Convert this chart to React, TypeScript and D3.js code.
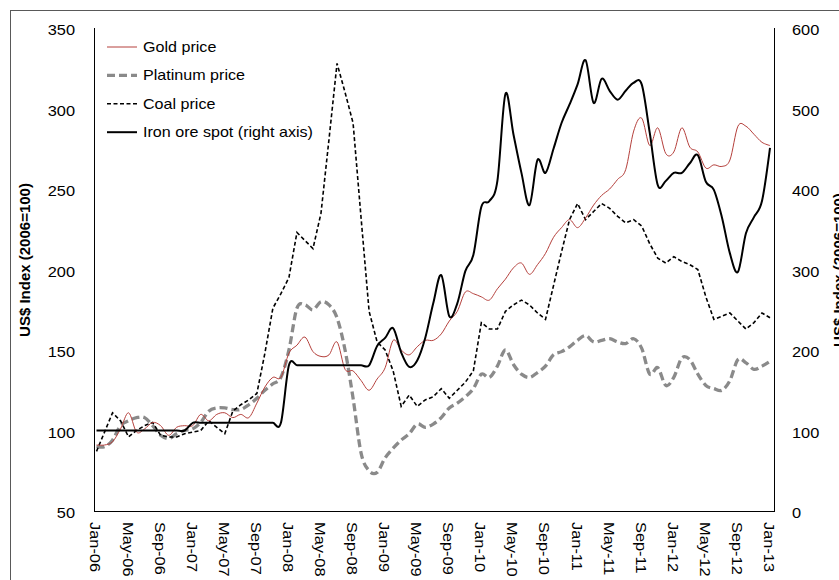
import React from 'react';
import * as d3 from 'd3';

// ---- data (monthly, Jan-06 .. Jan-13) ----
const tickLabels = [
  'Jan-06', 'May-06', 'Sep-06', 'Jan-07', 'May-07', 'Sep-07', 'Jan-08', 'May-08', 'Sep-08',
  'Jan-09', 'May-09', 'Sep-09', 'Jan-10', 'May-10', 'Sep-10', 'Jan-11', 'May-11', 'Sep-11',
  'Jan-12', 'May-12', 'Sep-12', 'Jan-13',
];
const tickEvery = 4;

const goldPrice = [
  91, 91, 93, 101, 111, 99, 101, 105, 103, 97, 102, 103,
  103, 110, 106, 110, 111, 108, 110, 108, 117, 127, 133, 133,
  148, 153, 158, 149, 146, 147, 155, 138, 137, 131, 125, 132,
  139, 156, 150, 147, 152, 156, 156, 160, 168, 174, 186, 185,
  183, 181, 188, 194, 201, 204, 197, 203, 210, 220, 226, 231,
  226, 232, 240, 246, 250, 256, 262, 286, 294, 277, 288, 272,
  273, 288, 276, 273, 263, 265, 264, 268, 289, 289, 284, 279,
  277,
];

const platinumPrice = [
  90, 90, 94, 103, 106, 108, 108, 103, 97, 95, 98, 100,
  101, 105, 112, 114, 114, 113, 113, 116, 120, 125, 129, 133,
  150, 176, 178, 175, 180, 178, 170, 150, 120, 86, 75, 74,
  83, 89, 94, 98, 104, 102, 104, 108, 114, 117, 121, 126,
  135, 133, 140, 150, 141, 135, 133, 136, 140, 147, 149, 152,
  156, 159, 155, 156, 157, 155, 154, 157, 151, 135, 139, 128,
  133, 145, 144, 135, 128, 126, 125, 131, 144, 142, 138, 140,
  143,
];

const coalPrice = [
  87, 99, 111, 106, 96, 100, 103, 105, 97, 96, 96, 98,
  99, 100, 106, 102, 98, 112, 116, 119, 123, 148, 176, 185,
  195, 223, 218, 213, 235, 281, 328, 310, 291, 232, 174, 155,
  150, 137, 115, 122, 115, 119, 121, 126, 120, 125, 130, 137,
  167, 163, 163, 174, 178, 181, 178, 173, 169, 190, 211, 231,
  241, 231, 236, 241, 238, 233, 229, 231, 227, 216, 207, 204,
  208, 205, 203, 200, 183, 169, 171, 173, 168, 163, 167, 173,
  170,
];

const ironOreSpot = [
  100, 100, 100, 100, 100, 100, 100, 100, 100, 100, 100, 100,
  109.5, 109.5, 109.5, 109.5, 109.5, 109.5, 109.5, 109.5, 109.5, 109.5, 109.5, 109.5,
  181, 181, 181, 181, 181, 181, 181, 181, 181, 181, 181, 205,
  215, 227, 197, 179, 187, 215, 258, 293, 242, 258, 298, 318,
  378, 385, 410, 518, 468, 420, 380, 436, 420, 450, 482, 505,
  530, 560, 507, 537, 522, 511, 522, 532, 530, 470, 405, 410,
  420, 420, 432, 442, 409, 399, 365, 320, 297, 345, 365, 385,
  451,
];

const leftTicks = [50, 100, 150, 200, 250, 300, 350];
const rightTicks = [0, 100, 200, 300, 400, 500, 600];

const FONT = "'Liberation Sans', Arial, sans-serif";
const SX = 1.17;

export default function App() {
  const W = 839;
  const H = 580;
  const plotL = 94, plotR = 774, plotT = 28, plotB = 511;

  const idx = d3.range(goldPrice.length);
  const x = d3.scalePoint<number>().domain(idx).range([96.5, 770]);
  const yL = d3.scaleLinear().domain([50, 350]).range([plotB, plotT]);
  const yR = d3.scaleLinear().domain([0, 600]).range([plotB, plotT]);

  const smoothL = d3.line<number>().x((_, i) => x(i)!).y(d => yL(d)).curve(d3.curveCatmullRom.alpha(0));
  const smoothR = d3.line<number>().x((_, i) => x(i)!).y(d => yR(d)).curve(d3.curveCatmullRom.alpha(0));
  const straightL = d3.line<number>().x((_, i) => x(i)!).y(d => yL(d));

  const legend = [
    { label: 'Gold price', stroke: '#B5403C', width: 1, dash: undefined as string | undefined },
    { label: 'Platinum price', stroke: '#8A8A8A', width: 3.3, dash: '8,4' },
    { label: 'Coal price', stroke: '#000', width: 1.6, dash: '4,2.5' },
    { label: 'Iron ore spot (right axis)', stroke: '#000', width: 2, dash: undefined },
  ];

  return (
    <svg width={W} height={H} style={{ position: 'absolute', left: 0, top: 0, background: '#fff' }} fontFamily={FONT}>
      <rect x={0} y={0} width={W} height={H} fill="#fff" />
      <rect x={10.5} y={10.5} width={1000} height={1000} fill="none" stroke="#595959" strokeWidth={1} />

      {/* series */}
      <path d={smoothL(platinumPrice)!} fill="none" stroke="#8A8A8A" strokeWidth={3.3} strokeDasharray="8,4" />
      <path d={straightL(coalPrice)!} fill="none" stroke="#000" strokeWidth={1.6} strokeDasharray="4,2.5" />
      <path d={smoothL(goldPrice)!} fill="none" stroke="#B5403C" strokeWidth={1} />
      <path d={smoothR(ironOreSpot)!} fill="none" stroke="#000" strokeWidth={2} />

      {/* axes lines */}
      <line x1={plotL + 0.5} x2={plotL + 0.5} y1={plotT} y2={plotB} stroke="#000" />
      <line x1={plotR + 0.5} x2={plotR + 0.5} y1={plotT} y2={plotB} stroke="#000" />
      <line x1={plotL} x2={plotR + 1} y1={plotB + 0.5} y2={plotB + 0.5} stroke="#000" />

      {/* left ticks */}
      {leftTicks.map(t => (
        <text key={'l' + t} transform={`translate(75,${yL(t) + 2}) scale(${SX},1)`} textAnchor="end"
          dominantBaseline="central" fontSize={14} fill="#000">{t}</text>
      ))}
      {/* right ticks */}
      {rightTicks.map(t => (
        <text key={'r' + t} transform={`translate(792,${yR(t) + 2}) scale(${SX},1)`} textAnchor="start"
          dominantBaseline="central" fontSize={14} fill="#000">{t}</text>
      ))}
      {/* x ticks */}
      {tickLabels.map((lab, k) => (
        <text key={lab} transform={`translate(${x(k * tickEvery)! - 1},522) rotate(90) scale(${SX},1)`}
          textAnchor="start" dominantBaseline="central" fontSize={14} fill="#000">{lab}</text>
      ))}

      {/* axis titles */}
      <text transform="translate(30,260) rotate(-90)" textAnchor="middle" fontSize={15} fontWeight="bold">US$ Index (2006=100)</text>
      <text transform="translate(844,270) rotate(-90)" textAnchor="middle" fontSize={15} fontWeight="bold">US$ Index (2006=100)</text>

      {/* legend */}
      {legend.map((l, i) => {
        const ly = 47 + i * 28.4;
        return (
          <g key={l.label}>
            <line x1={107} x2={137} y1={ly} y2={ly} stroke={l.stroke} strokeWidth={l.width} strokeDasharray={l.dash} />
            <text transform={`translate(143,${ly + 5}) scale(1.15,1)`} fontSize={14} fill="#000">{l.label}</text>
          </g>
        );
      })}
    </svg>
  );
}
